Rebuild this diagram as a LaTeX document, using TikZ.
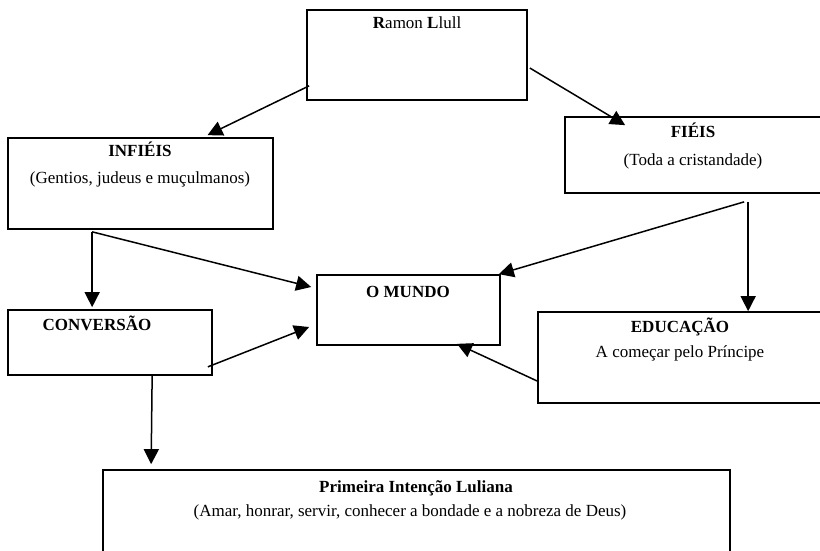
\documentclass[tikz,border=0pt]{standalone}
\usepackage{fontspec}
\setmainfont{Liberation Serif}
\usetikzlibrary{arrows.meta, calc}

\begin{document}
\begin{tikzpicture}[
  x=1pt, y=-1pt,
  box/.style={draw, line width=1.7pt, inner sep=0pt},
  txt/.style={anchor=base, inner sep=0pt, font=\fontsize{17}{19}\selectfont},
  arr/.style={line width=1.5pt, -{Triangle[length=15pt,width=15pt]}}
]
\clip (0,0) rectangle (820,551);

% boxes
\node[box, minimum width=220pt, minimum height=90pt] (ramon) at (417,55) {};
\node[box, minimum width=265pt, minimum height=91pt] (infieis) at (140.5,183.5) {};
\node[box, minimum width=265pt, minimum height=76pt] (fieis) at (697.5,155) {};
\node[box, minimum width=204pt, minimum height=65pt] (conversao) at (110,342.5) {};
\node[box, minimum width=183pt, minimum height=70pt] (mundo) at (408.5,310) {};
\node[box, minimum width=292pt, minimum height=91pt] (educacao) at (684,357.5) {};
\node[box, minimum width=627pt, minimum height=90pt] (primeira) at (416.5,515) {};

% texts
\node[txt] (ramontxt) at (417,29) {\textbf{R}amon \textbf{L}lull};
\node[txt] (infieistit) at (140,157) {\textbf{INFIÉIS}};
\node[txt] (infieissub) at (140,183) {(Gentios, judeus e muçulmanos)};
\node[txt] (fieistit) at (693,138) {\textbf{FIÉIS}};
\node[txt] (fieissub) at (693,165) {(Toda a cristandade)};
\node[txt] (conversaotit) at (97,330) {\textbf{CONVERSÃO}};
\node[txt] (mundotit) at (408,297) {\textbf{O MUNDO}};
\node[txt] (educacaotit) at (680,332) {\textbf{EDUCAÇÃO}};
\node[txt] (educacaosub) at (680,357) {A começar pelo Príncipe};
\node[txt] (primeiratit) at (416,492) {\textbf{Primeira Intenção Luliana}};
\node[txt] (primeirasub) at (410,516) {(Amar, honrar, servir, conhecer a bondade e a nobreza de Deus)};

% connectors
\draw[arr] ($(ramon.south west)+(3,-15)$) -- ($(infieis.north)+(67,-2)$);
\draw[arr] ($(ramon.east)+(2,13)$) -- ($(fieis.north west)+(61,9)$);
\draw[arr] ($(infieis.south west)+(85,2)$) -- ($(conversao.north west)+(85,-2)$);
\draw[arr] ($(infieis.south west)+(85,2)$) -- ($(mundo.west)+(-5,-23)$);
\draw[arr] ($(conversao.south east)+(-5,-9)$) -- ($(mundo.west)+(-7,17)$);
\draw[arr] ($(fieis.south west)+(180,8)$) -- ($(mundo.north east)+(-2,0)$);
\draw[arr] ($(fieis.south west)+(184,8)$) -- ($(educacao.north west)+(211,0)$);
\draw[arr] ($(educacao.west)+(0,23.5)$) -- ($(mundo.south)+(48.5,-2)$);
\draw[arr] ($(conversao.south west)+(145,0)$) -- ($(primeira.north west)+(49,-5)$);
\end{tikzpicture}
\end{document}
